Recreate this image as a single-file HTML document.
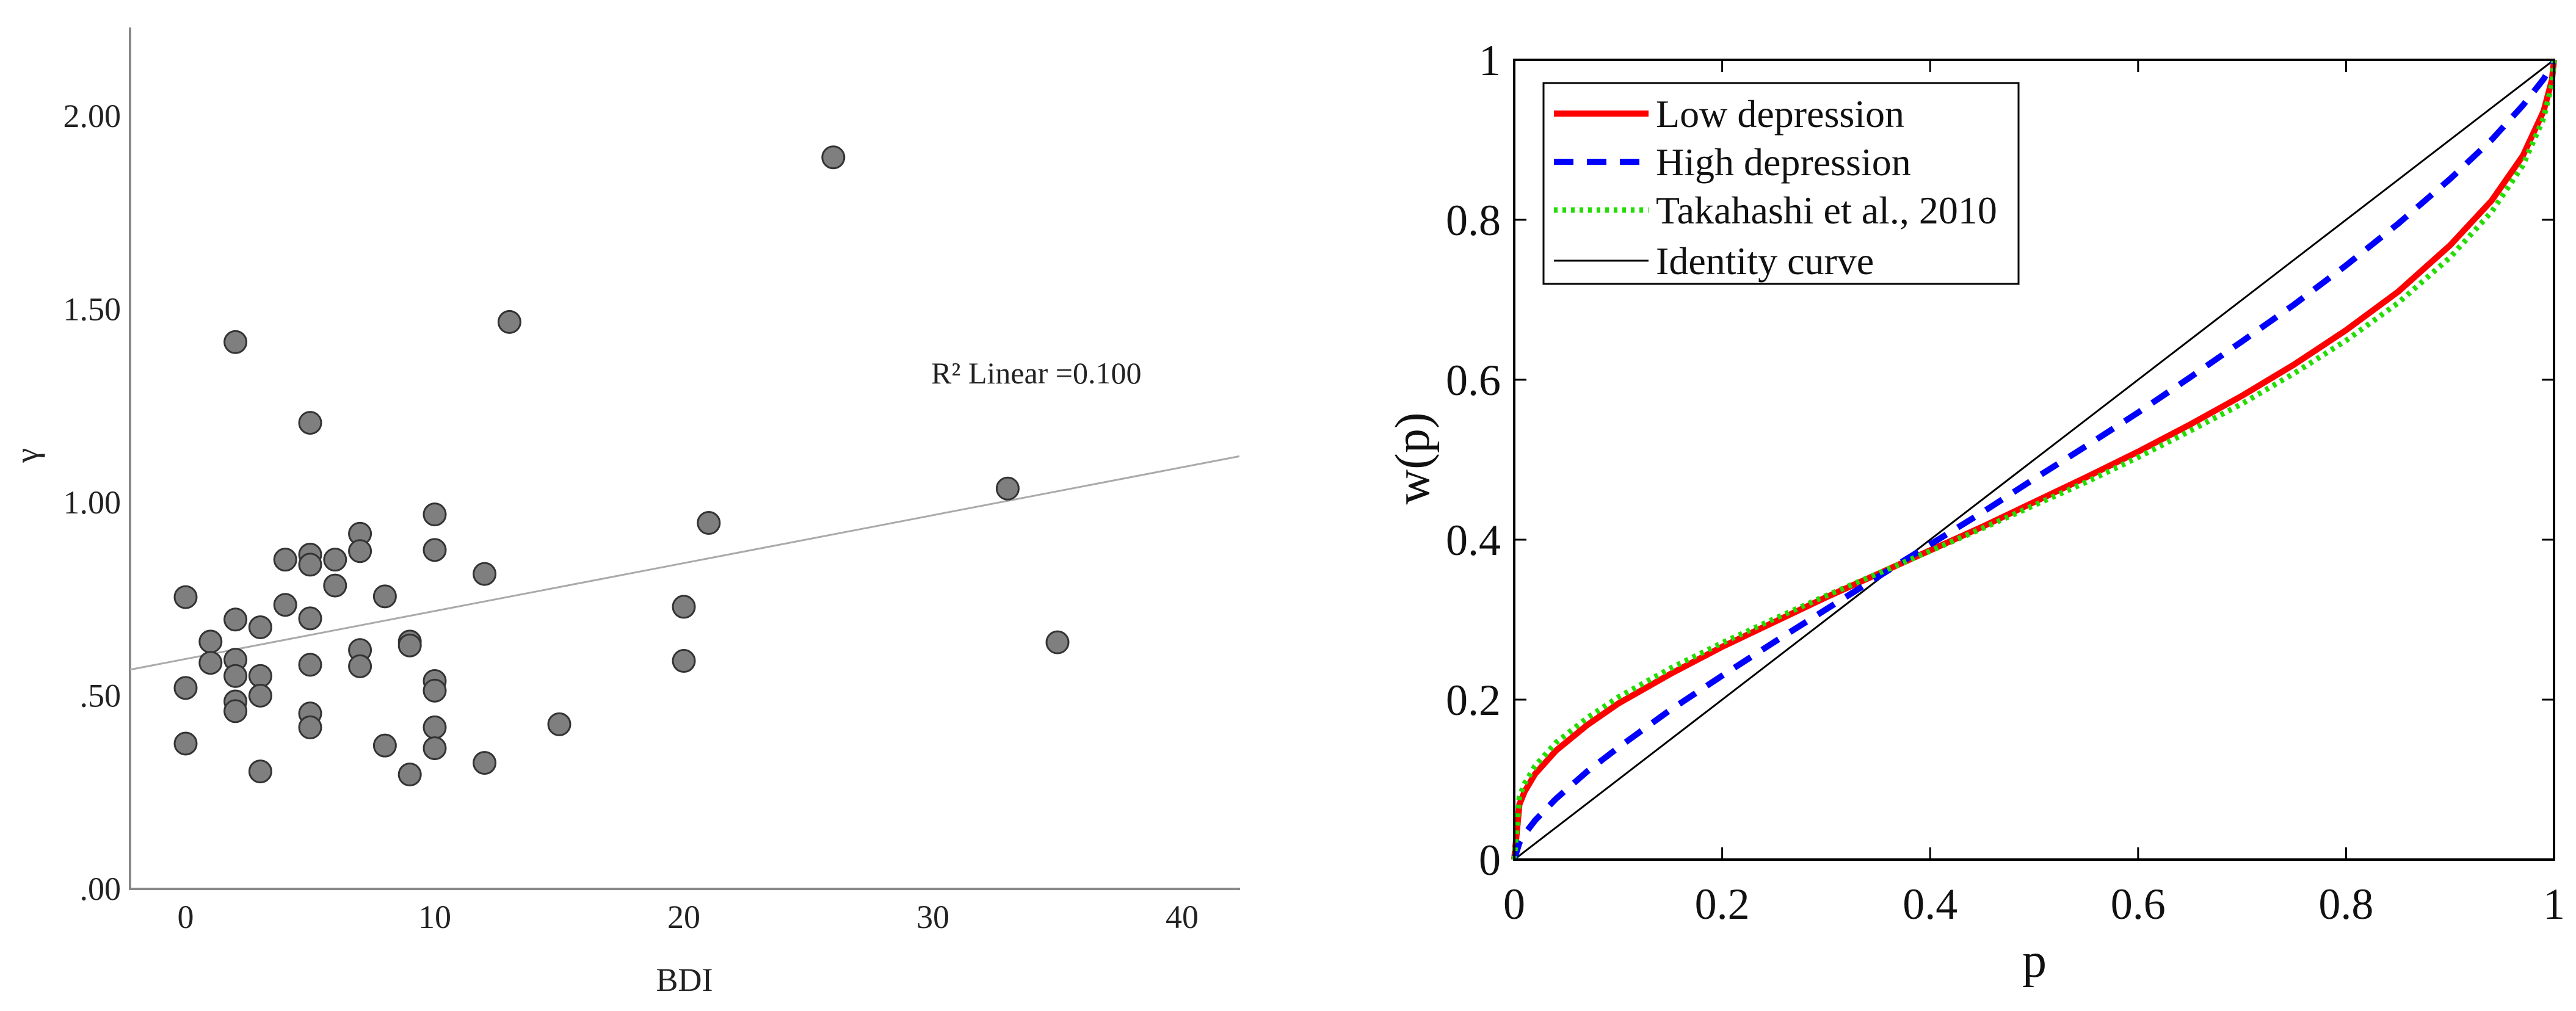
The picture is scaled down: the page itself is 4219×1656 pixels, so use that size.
<!DOCTYPE html>
<html><head><meta charset="utf-8"><style>
html,body{margin:0;padding:0;background:#fff;}
svg{display:block;}
text{font-family:"Liberation Serif",serif;}
</style></head><body>
<svg id="fig" width="4219" height="1656" viewBox="0 0 4219 1656" xmlns="http://www.w3.org/2000/svg">
<g id="left"></g>
<g id="right"></g>
</svg>
<script>
// ---------- Left scatter data ----------
const bdiValues = [0,0,0,1,1,2,2,2,2,2,2,3,3,3,3,4,4,5,5,5,5,5,5,5,6,6,7,7,7,7,8,8,9,9,9,10,10,10,10,10,10,12,12,13,15,20,20,21,26,33,35];
const gammaValues = [0.755,0.52,0.376,0.64,0.585,1.415,0.697,0.593,0.551,0.485,0.46,0.677,0.551,0.50,0.304,0.852,0.735,1.206,0.865,0.839,0.70,0.58,0.454,0.418,0.852,0.785,0.919,0.874,0.618,0.576,0.757,0.371,0.64,0.63,0.296,0.969,0.877,0.538,0.513,0.418,0.364,0.815,0.326,1.467,0.426,0.730,0.590,0.947,1.893,1.036,0.638];
const leftXTicks = [0,10,20,30,40];
const leftYTicks = [0,0.5,1,1.5,2];
const leftYTickLabels = [".00",".50","1.00","1.50","2.00"];
const fitIntercept = 0.595;
const fitSlope = 0.0124;

// ---------- Right chart data ----------
const pValues = [0,0.005,0.01,0.02,0.04,0.07,0.1,0.15,0.2,0.25,0.3,0.37,0.45,0.5,0.55,0.6,0.65,0.7,0.75,0.8,0.85,0.9,0.94,0.97,0.99,0.998,1];
const lowDepression = [0,0.069,0.085,0.107,0.136,0.168,0.195,0.232,0.266,0.297,0.328,0.369,0.416,0.447,0.478,0.510,0.544,0.580,0.619,0.662,0.710,0.768,0.824,0.880,0.936,0.975,1];
const highDepression = [0,0.0211,0.0319,0.0489,0.0759,0.110,0.140,0.187,0.230,0.272,0.313,0.370,0.434,0.476,0.517,0.559,0.603,0.648,0.694,0.743,0.795,0.851,0.900,0.943,0.976,0.9935,1];
const takahashi2010 = [0,0.079,0.095,0.117,0.146,0.177,0.203,0.239,0.271,0.301,0.330,0.369,0.414,0.443,0.472,0.503,0.536,0.570,0.608,0.649,0.696,0.753,0.810,0.868,0.927,0.970,1];
const identityCurve = [0,1];
const identityP = [0,1];
const rightTicks = [0,0.2,0.4,0.6,0.8,1];
const rightTickLabels = ["0","0.2","0.4","0.6","0.8","1"];

const NS = "http://www.w3.org/2000/svg";
function mk(parent, tag, attrs, txt){
  const e = document.createElementNS(NS, tag);
  for (const k in attrs) e.setAttribute(k, attrs[k]);
  if (txt !== undefined) e.textContent = txt;
  parent.appendChild(e);
  return e;
}

// ---------- Left chart ----------
const L = document.getElementById('left');
const lx = v => 304 + v * 40.8;
const ly = v => 1456 - v * 633;
let e;
e = mk(L,'line',{x1:213,y1:45,x2:213,y2:1456,stroke:'#888','stroke-width':4});


e = mk(L,'line',{x1:211,y1:1456,x2:2031,y2:1456,stroke:'#888','stroke-width':4});


leftYTicks.forEach((t,i)=>{
  const el = mk(L,'text',{x:198,y:ly(t)+18,'text-anchor':'end','font-size':54,fill:'#222'},leftYTickLabels[i]);
  
  
});
leftXTicks.forEach(t=>{
  const el = mk(L,'text',{x:lx(t),y:1520,'text-anchor':'middle','font-size':54,fill:'#222'},String(t));
  
  
});
e = mk(L,'text',{x:1121,y:1623,'text-anchor':'middle','font-size':54,fill:'#222'},'BDI');


e = mk(L,'text',{x:0,y:0,'text-anchor':'middle','font-size':54,fill:'#222',transform:'translate(62,746) rotate(-90)'},'γ');


const xa = -2.23, xb = 42.3;
e = mk(L,'line',{x1:lx(xa),y1:ly(fitIntercept+fitSlope*xa),x2:lx(xb),y2:ly(fitIntercept+fitSlope*xb),stroke:'#aaa','stroke-width':3});


bdiValues.forEach((b,i)=>{
  const c = mk(L,'circle',{cx:lx(b),cy:ly(gammaValues[i]),r:18,fill:'#7f7f7f',stroke:'#333','stroke-width':3});
  
  
});
e = mk(L,'text',{x:1525,y:628,'font-size':50,fill:'#222'},'R² Linear =0.100');



// ---------- Right chart ----------
const R = document.getElementById('right');
const X0=2480, X1=4183, Y0=98, Y1=1408;
const rx = v => X0 + v*(X1-X0);
const ry = v => Y1 - v*(Y1-Y0);
rightTicks.forEach((t,i)=>{
  [[rx(t),Y1,rx(t),Y1-20],[rx(t),Y0,rx(t),Y0+20],[X0,ry(t),X0+20,ry(t)],[X1,ry(t),X1-20,ry(t)]].forEach(c=>{
    const tk = mk(R,'line',{x1:c[0],y1:c[1],x2:c[2],y2:c[3],stroke:'#000','stroke-width':3});
    
    
  });
  const xl = mk(R,'text',{x:rx(t),y:1505,'text-anchor':'middle','font-size':72,fill:'#111'},rightTickLabels[i]);
  
  
  const yl = mk(R,'text',{x:2458,y:ry(t)+25,'text-anchor':'end','font-size':72,fill:'#111'},rightTickLabels[i]);
  
  
});
function path(xs, ys){
  return xs.map((p,i)=>(i?'L':'M')+rx(p).toFixed(1)+' '+ry(ys[i]).toFixed(1)).join(' ');
}
e = mk(R,'path',{d:path(identityP,identityCurve),fill:'none',stroke:'#000','stroke-width':3});


e = mk(R,'path',{d:path(pValues,lowDepression),fill:'none',stroke:'#ff0000','stroke-width':10});


e = mk(R,'path',{d:path(pValues,highDepression),fill:'none',stroke:'#0000ff','stroke-width':10,'stroke-dasharray':'32 22'});


e = mk(R,'path',{d:path(pValues,takahashi2010),fill:'none',stroke:'#22dd00','stroke-width':9,'stroke-dasharray':'6 8'});


e = mk(R,'rect',{x:X0,y:Y0,width:X1-X0,height:Y1-Y0,fill:'none',stroke:'#000','stroke-width':4});


e = mk(R,'text',{x:3332,y:1600,'text-anchor':'middle','font-size':80,fill:'#111'},'p');


e = mk(R,'text',{x:0,y:0,'text-anchor':'middle','font-size':80,fill:'#111',transform:'translate(2340,751) rotate(-90)'},'w(p)');



// legend
const lg = mk(R,'g',{});


e = mk(lg,'rect',{x:2528,y:136,width:778,height:329,fill:'#fff',stroke:'#000','stroke-width':3});


const legendLabels = ['Low depression','High depression','Takahashi et al., 2010','Identity curve'];
const legendStyles = [
  {stroke:'#ff0000','stroke-width':10},
  {stroke:'#0000ff','stroke-width':10,'stroke-dasharray':'32 22'},
  {stroke:'#22dd00','stroke-width':9,'stroke-dasharray':'6 8'},
  {stroke:'#000','stroke-width':3}
];
const legendY = [186,265,344,427];
legendLabels.forEach((lab,i)=>{
  const s = Object.assign({x1:2545,y1:legendY[i],x2:2700,y2:legendY[i]}, legendStyles[i]);
  const ln = mk(lg,'line',s);
  
  
  const tx = mk(lg,'text',{x:2712,y:legendY[i]+22,'font-size':64,fill:'#111'},lab);
  
  
});
</script>
</body></html>
